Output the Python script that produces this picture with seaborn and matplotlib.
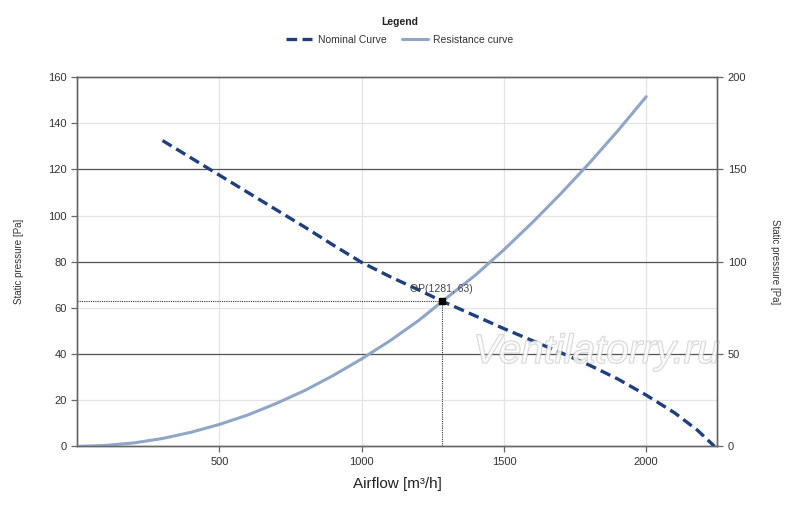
import matplotlib
matplotlib.use("Agg")
import matplotlib.pyplot as plt
import matplotlib.patheffects as pe
import pandas as pd
import seaborn as sns

# fan curve
nominal_flow = [300, 400, 500, 600, 700, 800, 900, 1000, 1100, 1200, 1281, 1400, 1500, 1600, 1700, 1800, 1900, 2000, 2100, 2180, 2240]
nominal_pa = [132.5, 125, 117.5, 110, 102.5, 95, 87.2, 79.7, 73.5, 67.8, 63, 56.5, 51, 45.8, 40.6, 35.2, 29.2, 22.2, 14.5, 7, 0]

# system resistance curve
resist_flow = [0, 100, 200, 300, 400, 500, 600, 700, 800, 900, 1000, 1100, 1200, 1281, 1400, 1500, 1600, 1700, 1800, 1900, 2000]
resist_pa = [0, 0.4, 1.5, 3.4, 6.1, 9.5, 13.6, 18.6, 24.2, 30.7, 37.9, 45.8, 54.5, 62.6, 74.2, 85.2, 97.0, 109.5, 122.7, 136.7, 151.5]

op_flow, op_pa = 1281, 63

nominal = pd.DataFrame({"flow": nominal_flow, "pa": nominal_pa})
resist = pd.DataFrame({"flow": resist_flow, "pa": resist_pa})

sns.set_theme(style="white")
plt.rcParams["font.family"] = ["Liberation Sans", "DejaVu Sans"]

fig = plt.figure(figsize=(8, 5.07), dpi=100)
ax = fig.add_axes([0.0964, 0.1196, 0.8003, 0.7284])

ax.set_xlim(0, 2250)
ax.set_ylim(0, 160)
ax.set_xticks([500, 1000, 1500, 2000])
ax.set_yticks(range(0, 161, 20))
ax.grid(True, color="#e4e4e4", linewidth=0.9)
ax.set_axisbelow(True)

# right axis, same range scaled to 0-200
ax2 = ax.twinx()
ax2.set_ylim(0, 200)
ax2.set_yticks([0, 50, 100, 150, 200])
for v in [40, 80, 120]:
    ax.axhline(v, color="#555555", linewidth=0.9, zorder=1)

sns.lineplot(data=resist, x="flow", y="pa", ax=ax, color="#8fa6c6", linewidth=2.2,
             label="Resistance curve", zorder=3, legend=False)
sns.lineplot(data=nominal, x="flow", y="pa", ax=ax, color="#1f3f7f", linewidth=2.4,
             linestyle=(0, (3.2, 1.6)), label="Nominal Curve", zorder=4, legend=False)

# operating point
ax.plot([0, op_flow], [op_pa, op_pa], color="#333333", linestyle=(0, (1, 1)), linewidth=0.8, zorder=5)
ax.plot([op_flow, op_flow], [0, op_pa], color="#333333", linestyle=(0, (1, 1)), linewidth=0.8, zorder=5)
ax.plot([op_flow], [op_pa], marker="s", color="black", markersize=4, zorder=6)
ax.annotate(f"OP({op_flow}, {op_pa})", (op_flow, op_pa), xytext=(0, 5), textcoords="offset points",
            ha="center", va="bottom", fontsize=7.5, color="#444444", zorder=6)

for a in (ax, ax2):
    for s in a.spines.values():
        s.set_color("#666666")
        s.set_linewidth(1.0)
    a.tick_params(axis="both", colors="#666666", labelcolor="#333333", labelsize=8,
                  length=4, width=0.9, direction="out")

ax.tick_params(axis="x", bottom=True)
ax.tick_params(axis="y", left=True)
ax2.tick_params(axis="y", right=True)

ax.set_xlabel("Airflow [m³/h]", fontsize=11, color="#222222", labelpad=7)
ax.set_ylabel("Static pressure [Pa]", fontsize=7, color="#333333", labelpad=17)
ax2.set_ylabel("Static pressure [Pa]", fontsize=7, color="#333333", rotation=-90, labelpad=24)

# watermark
ax.text(1825, 41, "Ventilatorry.ru", fontsize=29, style="italic", ha="center", va="center",
        color="white", alpha=0.65, zorder=7, clip_on=False,
        path_effects=[pe.withStroke(linewidth=1.2, foreground="#bdbdbd")])

handles, labels = ax.get_legend_handles_labels()
order = [labels.index("Nominal Curve"), labels.index("Resistance curve")]
fig.text(0.5, 1 - 22 / 507, "Legend", ha="center", va="center", fontsize=7.5,
         fontweight="bold", color="#222222")
leg = fig.legend([handles[i] for i in order], [labels[i] for i in order],
                 loc="center", bbox_to_anchor=(0.5, 1 - 40 / 507), ncol=2, frameon=False,
                 fontsize=7.5, handlelength=2.5, columnspacing=1.5, handletextpad=0.5)
for t in leg.get_texts():
    t.set_color("#333333")

fig.savefig("out.png", dpi=100)
